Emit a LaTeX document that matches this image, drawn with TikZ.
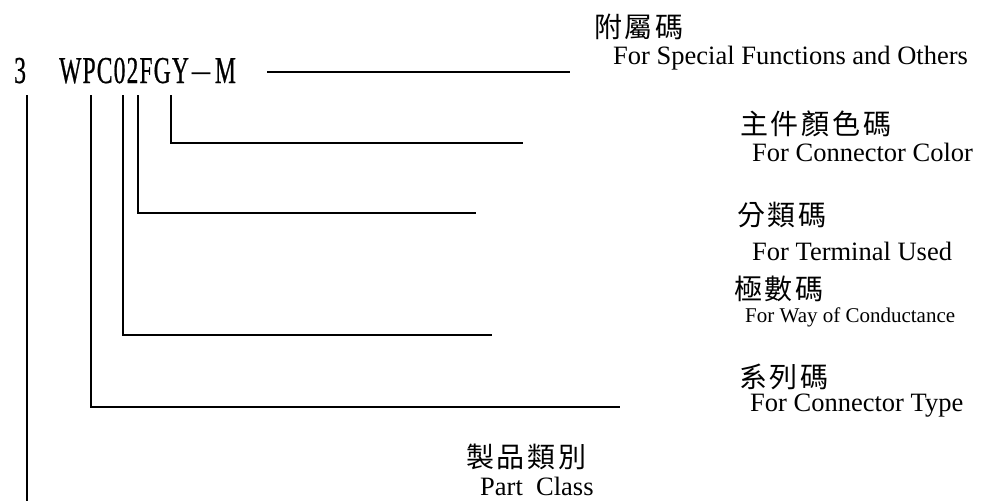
\documentclass[tikz,border=0pt]{standalone}
\usepackage{fontspec}
\setmainfont{Liberation Serif}
\newfontfamily\cjk[LetterSpace=10]{Noto Sans CJK TC}
\newfontfamily\cjkdash{Noto Sans CJK TC}
\newfontfamily\codefont[FakeStretch=0.62,LetterSpace=3,FakeBold=0.6]{Liberation Serif}
\usepackage{tikz}

\tikzset{
  lead/.style={line width=1.8pt},
  code/.style={anchor=base west,inner sep=0pt,font=\codefont\fontsize{38}{40}\selectfont},
  en/.style={anchor=base west,inner sep=0pt,font=\fontsize{26.5}{30}\selectfont},
  zh/.style={anchor=west,inner sep=0pt,font=\cjk\fontsize{28}{30}\selectfont}
}

\begin{document}
\begin{tikzpicture}[x=1pt,y=-1pt]
    \useasboundingbox (0,0) rectangle (981,501);
    % part number
    \node[code] (n3) at (14,83) {3};
    \node[code] (pn) at (59,83) {WPC02FGY{\cjkdash\fontsize{26}{26}\selectfont －}M};
    % labels
    \node[zh] (acc) at (594,27) {附屬碼};
    \node[en] (acc-en) at (613,64) {For Special Functions and Others};
    \node[zh] (col) at (740,124) {主件顏色碼};
    \node[en] (col-en) at (752,161) {For Connector Color};
    \node[zh] (term) at (737,215) {分類碼};
    \node[en] (term-en) at (752,260) {For Terminal Used};
    \node[zh] (way) at (734,289) {極數碼};
    \node[en,font=\fontsize{21}{24}\selectfont] (way-en) at (745,322) {For Way of Conductance};
    \node[zh] (type) at (739,377) {系列碼};
    \node[en] (type-en) at (750,411) {For Connector Type};
    \node[zh] (cls) at (466,457) {製品類別};
    \node[en] (cls-en) at (480,495) {Part\ \ Class};
    % leaders
    \coordinate (a0) at (267,72);  \coordinate (a1) at (570,72);
    \coordinate (c0) at (171,95);  \coordinate (c1) at (523,143);
    \coordinate (t0) at (138,95);  \coordinate (t1) at (476,213);
    \coordinate (w0) at (123,95);  \coordinate (w1) at (492,335);
    \coordinate (s0) at (91,95);   \coordinate (s1) at (620,407);
    \coordinate (p0) at (27,95);   \coordinate (p1) at (27,501);
    \draw[lead] (a0) -- (a1);
    \draw[lead] (c0) |- (c1);
    \draw[lead] (t0) |- (t1);
    \draw[lead] (w0) |- (w1);
    \draw[lead] (s0) |- (s1);
    \draw[lead] (p0) -- (p1);
\end{tikzpicture}
\end{document}
